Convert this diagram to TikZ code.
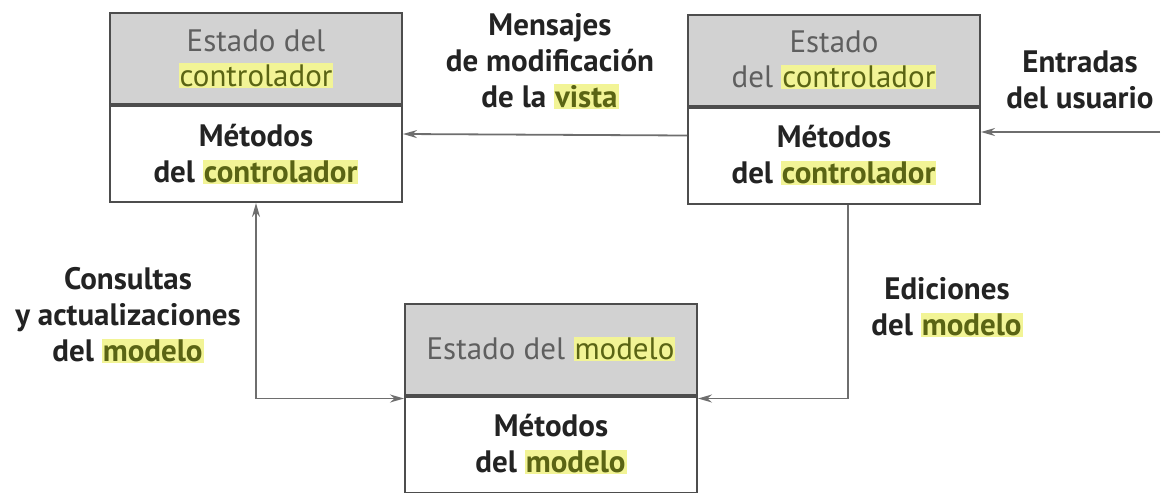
\documentclass[tikz,border=0pt]{standalone}
\usepackage{fontspec}
\setmainfont{PT Sans}
\usepackage{xcolor}
\usetikzlibrary{positioning, arrows.meta}

\definecolor{grisfondo}{RGB}{210,210,210}
\definecolor{borde}{RGB}{77,77,77}
\definecolor{textogris}{RGB}{95,95,95}
\definecolor{textocuerpo}{RGB}{35,35,35}
\definecolor{linea}{RGB}{110,110,110}
\definecolor{resaltado}{RGB}{242,244,150}
\definecolor{oliva}{RGB}{90,100,20}

\newcommand{\resalta}[1]{{\setlength{\fboxsep}{1pt}\colorbox{resaltado}{\textcolor{oliva}{#1}}}}

\begin{document}
\begin{tikzpicture}[x=1pt, y=-1pt, >={Stealth[length=14pt,width=8pt]},
  cabecera/.style={draw=borde, line width=2pt, fill=grisfondo, minimum width=292pt, minimum height=91pt, align=center, text=textogris, font=\fontsize{31}{35}\selectfont, inner sep=0pt},
  cuerpo/.style={draw=borde, line width=2pt, fill=white, minimum width=292pt, minimum height=96pt, align=center, text=textocuerpo, font=\fontsize{31}{36}\selectfont\bfseries, inner sep=0pt},
  flecha/.style={draw=linea, line width=1.8pt, ->},
  etiqueta/.style={align=center, text=textocuerpo, font=\fontsize{31}{36}\selectfont\bfseries}]
\useasboundingbox (0,0) rectangle (1163,493);
% Cajas
\node[cabecera] (e1) at (256,58.5) {Estado del\\\resalta{controlador}};
\node[cuerpo, below=0pt of e1] (m1) {Métodos\\del \resalta{controlador}};
\node[cabecera] (e2) at (834,60) {Estado\\del \resalta{controlador}};
\node[cuerpo, below=0pt of e2] (m2) {Métodos\\del \resalta{controlador}};
\node[cabecera] (e3) at (551,349) {Estado del \resalta{modelo}};
\node[cuerpo, below=0pt of e3] (m3) {Métodos\\del \resalta{modelo}};
% Etiquetas
\node[etiqueta] (l1) at (550,61) {Mensajes\\de modificación\\de la \resalta{vista}};
\node[etiqueta] (l2) at (1080,80) {Entradas\\del usuario};
\node[etiqueta] (l3) at (128,315) {Consultas\\y actualizaciones\\del \resalta{modelo}};
\node[etiqueta] (l4) at (947,307) {Ediciones\\del \resalta{modelo}};
% Conexiones
\coordinate (u) at (1160,132);
\draw[flecha] (u) -- (u -| m2.east);
\draw[flecha] ([yshift=20pt]m2.west) -- ([yshift=20pt]m1.east);
\draw[flecha, <->] (m1.south) |- ([yshift=-3pt]m3.north west);
\draw[flecha] ([xshift=14pt]m2.south) |- ([yshift=-3pt]m3.north east);
\end{tikzpicture}
\end{document}
